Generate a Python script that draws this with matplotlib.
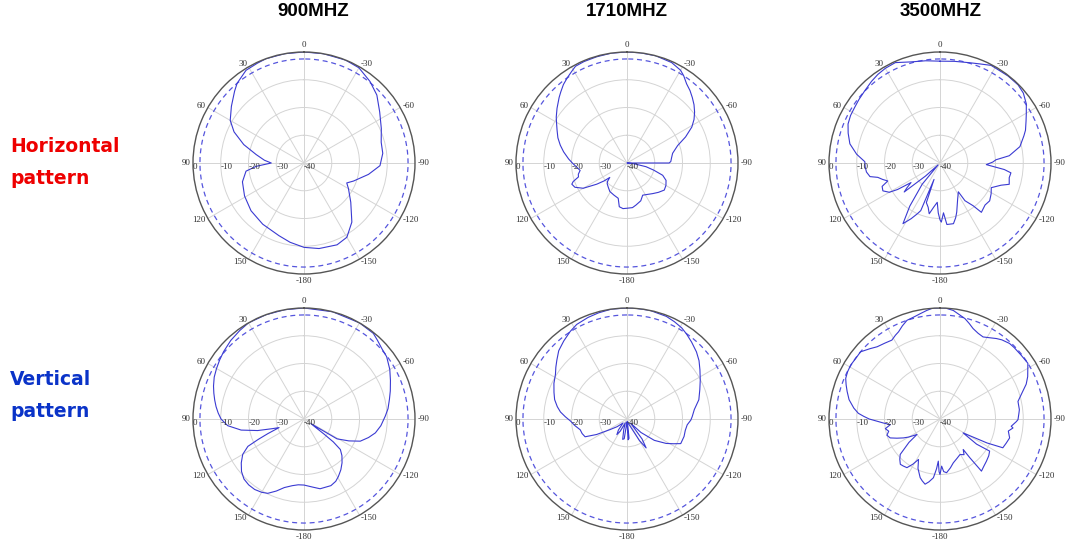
import numpy as np
import matplotlib.pyplot as plt

# ========== DATA : angle (deg, 0 = top, + = left) / level (dB) ==========

# Horizontal pattern, 900 MHz
h900_ang = [0, 10, 20, 25, 32, 40, 44, 52, 60, 66, 73, 80, 86, 90, 94, 98, 107, 119, 132,
            146, 161, 170, 180, -170, -158, -150, -141, -130, -120, -115, -110, -100,
            -92, -83, -75, -66, -56, -47, -39, -30, -22, -10]
h900_db = [0, 0, 0, -0.3, -0.6, -2.5, -4.0, -6.8, -9.3, -12.4, -17.3, -22.5, -25.7, -28.2,
           -22.7, -18.9, -16.8, -15.5, -14.3, -13.4, -12.3, -11.0, -9.6, -8.7, -8.2, -9.1,
           -12.6, -18.0, -21.5, -23.0, -21.0, -16.4, -12.6, -11.4, -11.2, -9.5, -7.1, -4.1,
           -2.2, -0.4, 0, 0]

# Horizontal pattern, 1710 MHz
h1710_ang = [0, 8, 16, 23, 28, 31, 35, 39, 43, 46, 52, 57, 61, 65, 70, 75, 80, 86, 90, 93,
             99, 103, 106, 109, 111, 115, 120, 125, 128, 130, 133, 136, 142, 149, 158, 166,
             170, 175, 180, -173, -168, -160, -154, -147, -140, -133, -126, -120, -114,
             -109, -105, -101, -96, -93, -90, -88, -83, -78, -71, -66, -61, -57, -53, -49,
             -45, -41, -37, -33, -30, -24, -15, -7]
h1710_db = [0, 0, -0.2, -0.3, -0.5, -1.4, -2.5, -3.6, -5.0, -6.0, -8.0, -9.6, -11.0, -12.2,
            -13.5, -15.1, -16.8, -18.9, -20.3, -21.3, -22.9, -22.0, -21.8, -19.5, -18.7,
            -19.3, -21.8, -26.7, -29.5, -31.9, -30.5, -29.7, -29.0, -28.0, -27.5, -26.9,
            -24.0, -23.5, -23.7, -23.8, -24.5, -25.5, -27.1, -26.5, -25.6, -24.5, -23.4,
            -23.8, -24.6, -26.4, -30.0, -33.0, -37.5, -40, -24.8, -24.2, -23.8, -23.2,
            -20.7, -16.9, -13.3, -11.2, -9.5, -8.0, -6.7, -5.4, -4.3, -2.5, -1.4, -0.4, 0, 0]

# Horizontal pattern, 3500 MHz
h3500_ang = [0, 8, 16, 24, 30, 35, 40, 46, 52, 57, 62, 67, 72, 78, 84, 89, 93, 97, 101,
             103, 106, 109, 112, 116, 120, 122, 124, 127, 129, 132, 135, 140, 145, 148.6,
             152.6, 156, 158, 160, 161, 165, 168, 172, 176, 178, 180, -178.7, -176,
             -173.6, -167.5, -164, -161.2, -154, -147.5, -146.5, -142.2, -140, -133,
             -127.3, -121, -115.7, -110, -107.1, -102, -97.9, -95.8, -92, -89, -86.7, -84,
             -78.4, -72, -69, -64, -60.3, -55.6, -50, -45, -38, -32, -27.6, -22, -16.6, -8]
h3500_db = [-3.3, -2.8, -2.1, -0.4, -0.6, -1.0, -1.6, -2.4, -2.9, -3.3, -3.5, -4.0, -5.2,
            -6.8, -9.8, -12.9, -13.0, -13.3, -14.3, -17.0, -18.5, -20.1, -17.5, -17.1,
            -18.9, -22.0, -27.4, -25.0, -23.4, -33.0, -39.0, -30.0, -21.0, -14.4, -17.4,
            -20.0, -21.5, -33.7, -24.9, -23.5, -21.3, -24.0, -25.8, -22.0, -19.5, -18.7,
            -22.0, -17.7, -17.6, -19.5, -21.3, -25.5, -27.7, -23.7, -20.5, -16.8, -17.8,
            -17.5, -18.5, -19.5, -16.6, -13.9, -14.5, -14.2, -16.7, -23.3, -21.0, -19.8,
            -14.9, -10.6, -8.2, -7.0, -5.5, -4.2, -2.3, -0.8, -0.2, -0.2, -0.4, -0.3, -1.5,
            -2.3, -3.0]

# Vertical pattern, 900 MHz
v900_ang = [0, 10, 20, 30, 36, 43, 50, 55, 60, 65, 70, 74, 78, 82, 86, 90, 95, 100, 104,
            107, 109, 112, 114, 116, 120, 125, 130, 135, 140, 145, 150, 154, 159, 164, 170,
            175, 180, -173, -167, -158, -153, -149, -144, -139, -134, -130, -128, -127,
            -124, -121, -116, -111.5, -106, -101, -95, -88, -83, -77, -72, -66, -60, -53,
            -48, -43, -39, -30, -15]
v900_db = [0, 0, 0, 0, -0.6, -1.3, -2.2, -2.9, -3.6, -4.3, -5.3, -6.2, -7.1, -8.0, -9.0,
           -10.1, -12.4, -17.0, -22.8, -28.1, -30.5, -26.0, -22.0, -17.5, -14.5, -12.4,
           -10.6, -9.4, -9.0, -9.0, -9.5, -10.2, -12.2, -14.3, -15.6, -16.2, -16.2, -15.3,
           -14.2, -14.1, -14.8, -15.9, -17.4, -19.1, -21.0, -22.9, -26.6, -30.9, -37.0,
           -26.1, -22.0, -18.2, -15.8, -13.8, -12.2, -10.7, -9.5, -8.4, -7.3, -5.9, -4.3,
           -2.7, -2.2, -1.2, -0.3, 0, 0]

# Vertical pattern, 1710 MHz
v1710_ang = [0, 8, 15, 21, 28, 33, 39, 45, 50, 54, 58, 64, 70, 75, 80, 84, 88, 92, 97, 103,
             108, 113, 117, 122, 128, 135, 142, 147, 151, 157, 163, 168, 172, 175, 180,
             -177, -174, -171, -160, -150, -146.5, -143, -139, -134, -128, -122, -118,
             -114.6, -107, -101, -95.5, -91, -88, -82, -75, -68, -62, -56, -51, -46, -40,
             -35, -31, -26, -21, -12, -5]
v1710_db = [0, 0, -0.4, -0.8, -1.4, -2.4, -3.8, -5.2, -7.0, -8.3, -9.6, -10.7, -12.0,
            -13.0, -14.5, -15.9, -17.8, -19.6, -21.0, -22.7, -23.0, -23.6, -27.7, -32.8,
            -35.5, -38.0, -35.0, -33.3, -35.0, -38.5, -36.0, -32.5, -32.8, -38.0, -39.0,
            -32.5, -33.0, -39.0, -38.0, -31.0, -27.5, -31.0, -38.0, -33.0, -27.5, -23.4,
            -21.0, -18.7, -18.5, -18.6, -18.2, -17.0, -16.5, -15.5, -13.2, -11.7, -10.1,
            -8.3, -6.6, -5.2, -3.8, -2.6, -1.7, -1.0, -0.4, 0, 0]

# Vertical pattern, 3500 MHz
v3500_ang = [0, 4, 7, 10.7, 14, 18.5, 22, 25.4, 28, 31.4, 36, 41, 45, 49.8, 54, 58.9, 63,
             66.7, 70, 73.5, 78, 82.8, 86, 88, 90, 92, 94, 96.5, 100, 103.4, 107, 110.8,
             114, 117.4, 120, 123.9, 127, 131.7, 135, 138.8, 142, 145.8, 149, 152, 156,
             161.3, 164, 167.1, 170, 173.6, 176, 177.7, 179, 180, -178, -176, -173, -168,
             -163.1, -157, -150.7, -146, -142.7, -142.4, -141.5, -137, -132.2, -127,
             -122.9, -124.5, -121, -117, -114.6, -110, -105.2, -100, -97, -95.8, -92,
             -90.5, -86, -83.3, -77.3, -71.6, -68, -64.2, -57.6, -51.8, -46, -42.6, -38,
             -35, -31, -27.7, -24, -20.1, -17, -13.9, -7, -3]
v3500_db = [0, 0, -0.6, -1.4, -2.0, -2.5, -3.8, -5.2, -5.8, -6.7, -6.2, -5.5, -4.2, -2.5,
            -2.6, -2.4, -2.6, -3.0, -4.0, -5.1, -6.5, -8.7, -10.5, -12.5, -14.5, -17.3,
            -19.5, -22.0, -20.0, -21.0, -20.0, -20.8, -23.0, -25.2, -27.0, -30.0, -26.0,
            -20.8, -19.5, -18.3, -18.5, -18.8, -21.0, -23.5, -20.5, -17.7, -16.8, -15.9,
            -17.0, -18.7, -22.0, -24.8, -21.0, -20.0, -23.0, -21.0, -20.5, -22.0, -23.5,
            -24.5, -25.3, -24.5, -26.2, -22.4, -16.0, -16.8, -17.4, -18.0, -18.7, -24.0,
            -30.3, -21.0, -15.1, -14.6, -14.0, -15.0, -13.5, -14.2, -12.5, -11.9, -11.5,
            -11.2, -11.2, -8.6, -6.5, -4.9, -2.5, -2.8, -2.9, -3.0, -3.8, -4.6, -5.8, -6.6,
            -6.2, -5.3, -4.0, -2.7, -0.6, 0]

freq_titles = ["900MHZ", "1710MHZ", "3500MHZ"]
row_titles = [["Horizontal", "pattern"], ["Vertical", "pattern"]]
row_colors = ["#ee0000", "#0a33c8"]

ring_levels = [-40, -30, -20, -10, 0]
half_power = -2.5
angle_ticks = [0, 30, 60, 90, 120, 150, 180, 210, 240, 270, 300, 330]
angle_labels = ["0", "30", "60", "90", "120", "150", "-180", "-150", "-120", "-90", "-60", "-30"]

patterns = [[(h900_ang, h900_db), (h1710_ang, h1710_db), (h3500_ang, h3500_db)],
            [(v900_ang, v900_db), (v1710_ang, v1710_db), (v3500_ang, v3500_db)]]

# ========== LAYOUT (pixels) ==========
W, H = 1081, 540
col_cx = [304, 627, 940]
row_cy = [163, 419]
rad = 111
title_x = [313, 627, 941]
label_gap = 1.0   # dB beyond outer ring for angle labels


def draw_pattern(ax, ang, db):
    ax.set_theta_zero_location('N')
    ax.set_theta_direction(1)
    ax.set_xticks(np.radians(angle_ticks))
    ax.set_xticklabels([])
    ax.set_yticks(ring_levels[1:-1])
    ax.set_yticklabels([])
    ax.set_ylim(ring_levels[0], ring_levels[-1])
    ax.grid(True, color='#d4d4d4', linewidth=0.7)
    ax.spines['polar'].set_color('#555555')
    ax.spines['polar'].set_linewidth(1.0)

    # reference circle
    full = np.linspace(0, 2 * np.pi, 361)
    ax.plot(full, np.full_like(full, half_power), color='#5555dd',
            linewidth=0.9, linestyle=(0, (4, 3)))

    a = np.append(np.mod(np.array(ang, float), 360), 360)
    d = np.append(db, db[0])
    ax.plot(np.radians(a), d, color='#3a3ad2', linewidth=0.8)

    # angle labels just outside the ring
    for t, lab in zip(angle_ticks, angle_labels):
        s, c = np.sin(np.radians(t)), np.cos(np.radians(t))
        ha = 'right' if s > 0.3 else ('left' if s < -0.3 else 'center')
        va = 'bottom' if c > 0.9 else ('top' if c < -0.9 else 'center')
        ax.text(np.radians(t), ring_levels[-1] + label_gap, lab, ha=ha, va=va,
                fontsize=6.5, family='Liberation Serif', color='#333333')

    for lv in ring_levels:
        ax.text(np.pi / 2, lv, str(lv), ha='left', va='top', fontsize=6.5,
                family='Liberation Serif', color='#333333')


fig = plt.figure(figsize=(W / 100, H / 100), dpi=100)

for i, cy in enumerate(row_cy):
    for j, cx in enumerate(col_cx):
        ax = fig.add_axes([(cx - rad) / W, 1 - (cy + rad) / H, 2 * rad / W, 2 * rad / H],
                          projection='polar')
        draw_pattern(ax, *patterns[i][j])

for j, t in enumerate(freq_titles):
    fig.text(title_x[j] / W, 1 - 12 / H, t, ha='center', va='center',
             fontsize=13.5, fontweight='bold', family='Liberation Sans')

row_base = [[152, 184], [385, 417]]
for i, lines in enumerate(row_titles):
    for k, line in enumerate(lines):
        fig.text(10 / W, 1 - row_base[i][k] / H, line, ha='left', va='baseline',
                 fontsize=13.5, fontweight='bold', family='DejaVu Sans', color=row_colors[i])

plt.savefig("out.png", dpi=100)
